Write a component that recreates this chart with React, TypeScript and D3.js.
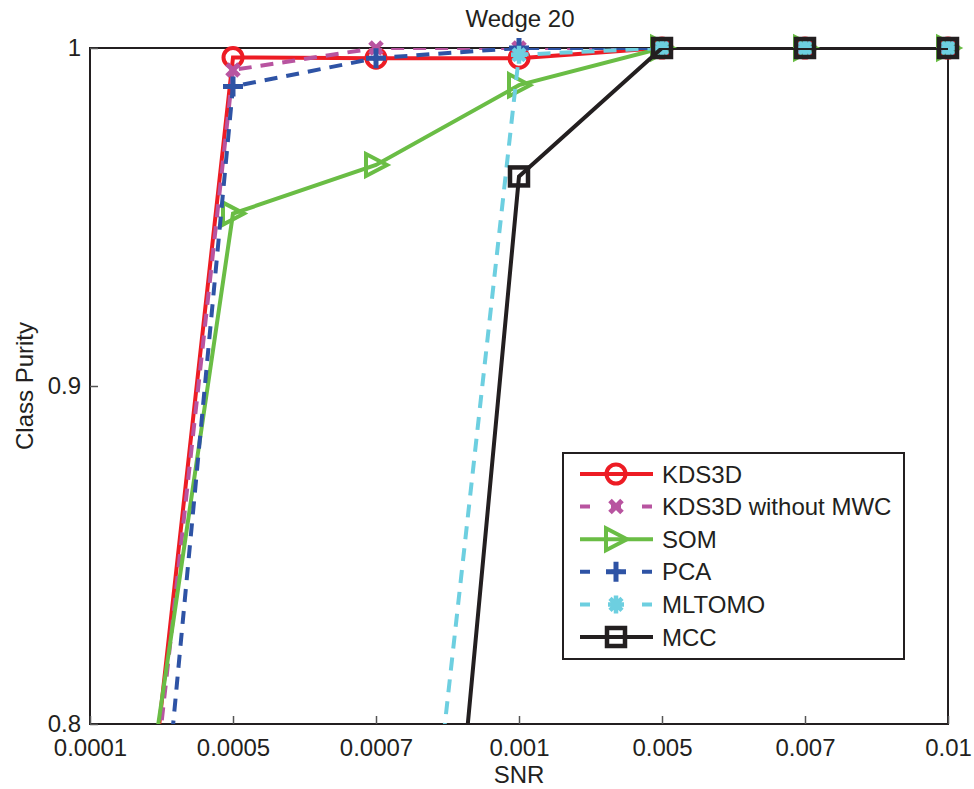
import React, { useEffect, useRef } from 'react';
import * as d3 from 'd3';

const snr = ['0.0001', '0.0005', '0.0007', '0.001', '0.005', '0.007', '0.01'];
const yTicks = [0.8, 0.9, 1];

const kds3d = [0.6145, 0.9972, 0.997, 0.997, 1, 1, 1];
const kds3dNoMwc = [0.607, 0.9935, 1.0, 1.0, 1, 1, 1];
const som = [0.662, 0.951, 0.9654, 0.989, 1, 1, 1];
const pca = [0.538, 0.9886, 0.997, 1.0, 1, 1, 1];
const mltomo = [0.5, 0.55, 0.616, 0.998, 1, 1, 1];
const mcc = [0.45, 0.48, 0.5095, 0.962, 1, 1, 1];

const seriesNames = ['KDS3D', 'KDS3D without MWC', 'SOM', 'PCA', 'MLTOMO', 'MCC'];
const seriesValues = [kds3d, kds3dNoMwc, som, pca, mltomo, mcc];
const seriesColors = ['#ed1c24', '#b854a0', '#6abd45', '#2e53a5', '#6dcfe0', '#231f20'];
const seriesDashed = [false, true, false, true, true, false];
const seriesMarkers = ['circle', 'x', 'triangle', 'plus', 'asterisk', 'square'];

const FONT = 'Liberation Sans, Arial, Helvetica, sans-serif';

function drawMarker(g, kind, cx, cy, color) {
  const m = g.append('g').attr('transform', `translate(${cx},${cy})`);
  if (kind === 'circle') {
    m.append('circle').attr('r', 9.5).attr('fill', 'none').attr('stroke', color).attr('stroke-width', 4);
  } else if (kind === 'x') {
    m.append('path').attr('d', 'M-6,-6L6,6M-6,6L6,-6').attr('stroke', color).attr('stroke-width', 5);
  } else if (kind === 'triangle') {
    m.append('path').attr('d', 'M-10,-11L11,0L-10,11Z').attr('fill', 'none').attr('stroke', color).attr('stroke-width', 4).attr('stroke-linejoin', 'miter');
  } else if (kind === 'plus') {
    m.append('path').attr('d', 'M-10,0L10,0M0,-10L0,10').attr('stroke', color).attr('stroke-width', 5);
  } else if (kind === 'asterisk') {
    m.append('path').attr('d', 'M-8,0L8,0M0,-9L0,9M-6,-6L6,6M-6,6L6,-6').attr('stroke', color).attr('stroke-width', 4.5);
  } else if (kind === 'square') {
    m.append('rect').attr('x', -9).attr('y', -9).attr('width', 18).attr('height', 18).attr('fill', 'none').attr('stroke', color).attr('stroke-width', 4.5);
  }
}

export default function App() {
  const ref = useRef(null);

  useEffect(() => {
    const svg = d3.select(ref.current);
    svg.selectAll('*').remove();

    const width = 974;
    const height = 789;
    const margin = { top: 48, right: 26, bottom: 65, left: 90 };

    const x = d3.scalePoint().domain(snr).range([margin.left, width - margin.right]);
    const y = d3.scaleLinear().domain([0.8, 1]).range([height - margin.bottom, margin.top]);

    svg.append('rect').attr('width', width).attr('height', height).attr('fill', '#fff');

    svg.append('defs').append('clipPath').attr('id', 'plotclip')
      .append('rect')
      .attr('x', margin.left).attr('y', margin.top)
      .attr('width', width - margin.left - margin.right)
      .attr('height', height - margin.top - margin.bottom);

    // box
    svg.append('rect')
      .attr('x', margin.left).attr('y', margin.top)
      .attr('width', width - margin.left - margin.right)
      .attr('height', height - margin.top - margin.bottom)
      .attr('fill', 'none').attr('stroke', '#231f20').attr('stroke-width', 2);

    const xAxis = svg.append('g')
      .attr('transform', `translate(0,${height - margin.bottom})`)
      .call(d3.axisBottom(x).tickSizeInner(-8).tickSizeOuter(0).tickPadding(15));
    xAxis.select('.domain').remove();
    xAxis.selectAll('line').attr('stroke', '#555').attr('stroke-width', 1.5);
    xAxis.selectAll('text').attr('font-family', FONT).attr('font-size', 24).attr('fill', '#231f20');

    const yAxis = svg.append('g')
      .attr('transform', `translate(${margin.left},0)`)
      .call(d3.axisLeft(y).tickValues(yTicks).tickFormat(d3.format('~g')).tickSizeInner(-8).tickSizeOuter(0).tickPadding(9));
    yAxis.select('.domain').remove();
    yAxis.selectAll('line').attr('stroke', '#555').attr('stroke-width', 1.5);
    yAxis.selectAll('text').attr('font-family', FONT).attr('font-size', 24).attr('fill', '#231f20');

    svg.append('text')
      .attr('x', (margin.left + width - margin.right) / 2 + 1).attr('y', 27)
      .attr('text-anchor', 'middle').attr('font-family', FONT).attr('font-size', 24).attr('fill', '#231f20')
      .text('Wedge 20');

    svg.append('text')
      .attr('x', x('0.001')).attr('y', 783)
      .attr('text-anchor', 'middle').attr('font-family', FONT).attr('font-size', 24).attr('fill', '#231f20')
      .text('SNR');

    svg.append('text')
      .attr('transform', `translate(33,${(margin.top + height - margin.bottom) / 2}) rotate(-90)`)
      .attr('text-anchor', 'middle').attr('font-family', FONT).attr('font-size', 24).attr('fill', '#231f20')
      .text('Class Purity');

    const line = d3.line().x((d, i) => x(snr[i])).y((d) => y(d));

    seriesValues.forEach((vals, s) => {
      svg.append('path')
        .datum(vals)
        .attr('d', line)
        .attr('clip-path', 'url(#plotclip)')
        .attr('fill', 'none')
        .attr('stroke', seriesColors[s])
        .attr('stroke-width', 4)
        .attr('stroke-dasharray', seriesDashed[s] ? '13,9' : null);
      const mg = svg.append('g');
      vals.forEach((v, i) => {
        if (v >= 0.8) drawMarker(mg, seriesMarkers[s], x(snr[i]), y(v), seriesColors[s]);
      });
    });

    // legend
    const lg = svg.append('g').attr('transform', 'translate(563,453)');
    lg.append('rect').attr('width', 341).attr('height', 206).attr('fill', '#fff').attr('stroke', '#231f20').attr('stroke-width', 2);
    seriesNames.forEach((name, s) => {
      const ly = 21 + s * 32.6;
      lg.append('line')
        .attr('x1', 17).attr('x2', 90).attr('y1', ly).attr('y2', ly)
        .attr('stroke', seriesColors[s]).attr('stroke-width', 4)
        .attr('stroke-dasharray', seriesDashed[s] ? '10,21' : null);
      drawMarker(lg, seriesMarkers[s], 53, ly, seriesColors[s]);
      lg.append('text')
        .attr('x', 99).attr('y', ly + 8.5)
        .attr('font-family', FONT).attr('font-size', 24).attr('fill', '#231f20')
        .text(name);
    });
  }, []);

  return <svg ref={ref} width={974} height={789} style={{ position: 'absolute', left: 0, top: 0 }}></svg>;
}
